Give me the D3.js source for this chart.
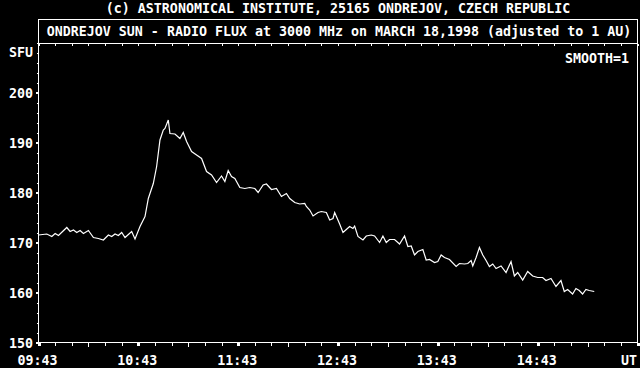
<!DOCTYPE html>
<html>
<head>
<meta charset="utf-8">
<script src="https://cdn.jsdelivr.net/npm/d3@7"></script>
<style>
  html, body { margin: 0; padding: 0; background: #000; }
  svg { display: block; }
  text { font-family: "DejaVu Sans Mono", "Liberation Mono", monospace; font-weight: bold; font-size: 13.3px; fill: #fff; }
  .axis path { display: none; }
  .axis line { stroke: #fff; shape-rendering: crispEdges; }
</style>
</head>
<body>
<div id="chart"></div>
<script>
// minutes after 09:43 UT
var minutes = [0, 5, 8, 10, 12, 17, 19, 21, 23, 25, 27, 30, 33, 36, 39, 42, 44, 46, 48, 50,
  52, 56, 58, 61, 64, 66, 69, 71, 73, 75, 76, 78, 79, 82, 85, 87, 89, 92, 95, 98,
  101, 104, 107, 110, 112, 114, 116, 118, 121, 124, 127, 130, 132, 135, 137, 140, 143, 146, 149, 151,
  154, 157, 160, 161, 163, 165, 168, 170, 173, 175, 177, 178, 181, 183, 185, 187, 189, 190, 192, 195,
  197, 200, 202, 205, 207, 209, 211, 214, 217, 220, 222, 224, 226, 228, 231, 233, 235, 238, 240, 242,
  244, 247, 251, 253, 256, 258, 260, 261, 263, 265, 267, 269, 271, 273, 275, 278, 281, 284, 286, 288,
  291, 294, 297, 300, 303, 305, 308, 311, 314, 316, 318, 321, 323, 325, 327, 329, 331, 334];

// flux in SFU
var flux = [171.5, 171.7, 171.2, 171.8, 171.4, 173.0, 172.2, 172.5, 172.0, 172.4, 171.8, 172.4, 171.0, 170.8, 170.5, 171.5, 171.2, 171.7, 171.4, 172.0,
  171.0, 172.2, 170.7, 173.2, 175.2, 178.8, 181.8, 185.2, 190.5, 192.5, 192.8, 194.5, 191.8, 191.7, 190.8, 192.0, 190.2, 188.2, 187.5, 186.8,
  184.2, 183.5, 182.0, 183.3, 182.2, 184.4, 183.2, 182.8, 181.0, 180.8, 181.0, 180.8, 180.0, 181.5, 181.7, 180.6, 180.8, 179.2, 179.8, 178.8,
  178.0, 177.7, 177.8, 177.2, 176.5, 175.3, 176.0, 176.2, 176.0, 174.5, 174.8, 176.0, 173.7, 172.0, 172.6, 173.2, 172.8, 173.3, 171.2, 170.5,
  171.3, 171.5, 171.3, 170.0, 171.3, 170.0, 170.6, 170.6, 169.7, 171.3, 169.2, 169.3, 167.5, 168.2, 168.6, 166.5, 166.6, 166.0, 166.2, 167.5,
  167.0, 166.6, 165.2, 165.8, 165.7, 165.8, 166.4, 165.3, 167.0, 169.0, 167.5, 166.4, 165.2, 165.7, 164.8, 165.3, 164.0, 166.2, 163.3, 164.0,
  162.5, 164.2, 163.3, 163.0, 163.0, 162.4, 162.8, 161.2, 162.4, 160.2, 160.6, 159.7, 160.8, 160.4, 159.7, 160.6, 160.4, 160.2];

var hourLabels = ["09:43", "10:43", "11:43", "12:43", "13:43", "14:43"];
var sfuLabels = [150, 160, 170, 180, 190, 200];

var titleTop = "(c) ASTRONOMICAL INSTITUTE, 25165 ONDREJOV, CZECH REPUBLIC";
var titleBox = "ONDREJOV SUN - RADIO FLUX at 3000 MHz on MARCH 18,1998 (adjusted to 1 AU)";

var width = 640, height = 368;
var plotLeft = 38.5, plotRight = 638.5, plotTop = 42.5, plotBottom = 342.5, boxTop = 19.5;

var svg = d3.select("#chart").append("svg")
    .attr("width", width)
    .attr("height", height);

var x = d3.scaleLinear().domain([0, 360]).range([plotLeft, plotRight - 1]);
var y = d3.scaleLinear().domain([150, 210]).range([plotBottom, plotTop]);

var minorX = d3.range(0, 361, 10);
var minorY = d3.range(150, 211, 2);

// top ticks, inside the plot
svg.append("g")
    .attr("class", "axis")
    .attr("transform", "translate(0," + (plotTop + 1) + ")")
    .call(d3.axisBottom(x).tickValues(minorX).tickSize(2).tickFormat(""));

// bottom ticks
svg.append("g")
    .attr("class", "axis")
    .attr("transform", "translate(0," + plotBottom + ")")
    .call(d3.axisBottom(x).tickValues(minorX).tickSize(3).tickFormat(""))
    .selectAll("line")
    .attr("y2", function(d) { return d % 30 === 0 && d % 60 !== 0 ? 4 : 3; })
    .style("stroke-width", function(d) { return d % 60 === 0 ? 3 : 1; });

// bottom labels
svg.append("g")
    .selectAll("text")
    .data(hourLabels)
    .enter()
    .append("text")
    .attr("x", function(d, i) { return x(i * 60) - 1; })
    .attr("y", 365)
    .attr("text-anchor", "middle")
    .text(function(d) { return d; });

svg.append("text")
    .attr("x", 637)
    .attr("y", 365)
    .attr("text-anchor", "end")
    .text("UT");

// left minor ticks
svg.append("g")
    .attr("class", "axis")
    .attr("transform", "translate(" + plotLeft + ",0)")
    .call(d3.axisLeft(y).tickValues(minorY).tickSize(2).tickFormat(""));

// left major ticks
svg.append("g")
    .attr("class", "axis")
    .attr("transform", "translate(" + plotLeft + ",0)")
    .call(d3.axisLeft(y).tickValues(sfuLabels).tickSize(3).tickFormat(""))
    .selectAll("line")
    .style("stroke-width", 2);

svg.append("g")
    .selectAll("text")
    .data(sfuLabels)
    .enter()
    .append("text")
    .attr("x", 33)
    .attr("y", function(d) { return y(d) + 5; })
    .attr("text-anchor", "end")
    .text(function(d) { return d; });

svg.append("text")
    .attr("x", 33)
    .attr("y", 57)
    .attr("text-anchor", "end")
    .text("SFU");

// frame and title box
svg.append("rect")
    .attr("x", plotLeft)
    .attr("y", boxTop)
    .attr("width", plotRight - plotLeft - 1)
    .attr("height", plotBottom - boxTop)
    .attr("fill", "none")
    .attr("stroke", "#fff")
    .style("shape-rendering", "crispEdges");

svg.append("line")
    .attr("x1", plotLeft).attr("x2", plotRight - 1)
    .attr("y1", plotTop + 0.5).attr("y2", plotTop + 0.5)
    .attr("stroke", "#fff")
    .style("shape-rendering", "crispEdges");

svg.append("text")
    .attr("x", 338)
    .attr("y", 13)
    .attr("text-anchor", "middle")
    .text(titleTop);

svg.append("text")
    .attr("x", 339)
    .attr("y", 36)
    .attr("text-anchor", "middle")
    .text(titleBox);

svg.append("text")
    .attr("x", 629)
    .attr("y", 63)
    .attr("text-anchor", "end")
    .text("SMOOTH=1");

// flux curve
var line = d3.line()
    .x(function(d, i) { return x(minutes[i]); })
    .y(function(d) { return y(d); });

svg.append("path")
    .datum(flux)
    .attr("d", line)
    .attr("fill", "none")
    .attr("stroke", "#fff")
    .attr("stroke-width", 1.2);
</script>
</body>
</html>
